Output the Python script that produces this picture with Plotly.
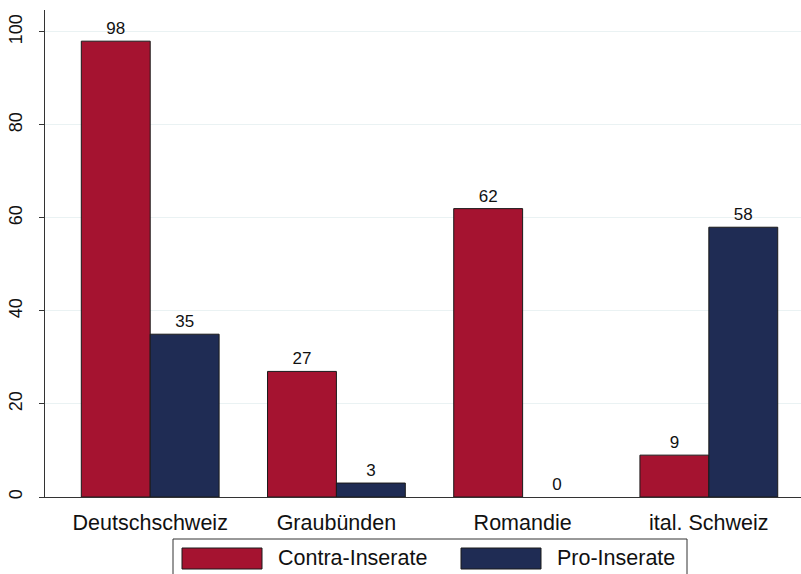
import plotly.graph_objects as go

categories = ["Deutschschweiz", "Graubünden", "Romandie", "ital. Schweiz"]
contra = [98, 27, 62, 9]
pro = [35, 3, 0, 58]
series_names = ["Contra-Inserate", "Pro-Inserate"]
y_ticks = [0, 20, 40, 60, 80, 100]

red = "#A51330"
navy = "#1F2C54"
font_family = "Liberation Sans, Arial, sans-serif"

# plot area in pixels
L, R, T, B = 45, 801, 10, 497
W, H = R - L, B - T

def fx(x):
    return (x - L) / W

def fy(y):
    return (B - y) / H

fig = go.Figure()
for name, vals, col in [(series_names[0], contra, red), (series_names[1], pro, navy)]:
    fig.add_trace(go.Bar(
        x=categories, y=vals, name=name,
        marker=dict(color=col, line=dict(color="#1a1a1a", width=[1 if v > 0 else 0 for v in vals])),
        text=[str(v) for v in vals], textposition="outside",
        textfont=dict(size=17, color="#111", family=font_family),
        cliponaxis=False, showlegend=False,
    ))

fig.update_layout(
    width=801, height=574,
    margin=dict(l=L, r=801 - R, t=T, b=574 - B, autoexpand=False),
    paper_bgcolor="white", plot_bgcolor="white",
    barmode="group", bargap=0.26, bargroupgap=0,
    font=dict(family=font_family, color="#111"),
    xaxis=dict(
        range=[-0.565, 3.495], showline=True, linecolor="#333", linewidth=1,
        ticks="outside", ticklen=6, tickcolor="rgba(0,0,0,0)",
        tickfont=dict(size=21.5), showgrid=False, automargin=False,
    ),
    yaxis=dict(
        range=[0, 104.7], tickvals=y_ticks, ticks="outside", ticklen=5,
        tickcolor="#333", showline=True, linecolor="#333", linewidth=1,
        tickangle=-90, tickfont=dict(size=18), showgrid=True,
        gridcolor="#EAF2F3", gridwidth=1, zeroline=False, automargin=False,
        ticklabelstandoff=10,
    ),
)

# Legend drawn as a box with large swatches
fig.add_shape(type="rect", xref="paper", yref="paper",
              x0=fx(173), x1=fx(687), y0=fy(590), y1=fy(539),
              line=dict(color="#333", width=1), fillcolor="white", layer="above")
swatches = [(182, 262, red, 276, series_names[0]), (461, 541, navy, 555, series_names[1])]
for x0, x1, col, tx, label in swatches:
    fig.add_shape(type="rect", xref="paper", yref="paper",
                  x0=fx(x0), x1=fx(x1), y0=fy(569), y1=fy(548),
                  line=dict(color="#1a1a1a", width=1), fillcolor=col, layer="above")
    fig.add_annotation(xref="paper", yref="paper", x=fx(tx), y=fy(558),
                       text=label, showarrow=False, xanchor="left", yanchor="middle",
                       font=dict(size=21.5, color="#111"))

fig.write_html("out.html", config={"displayModeBar": False},
               post_script="document.body.style.margin='0';document.body.style.overflow='hidden';")
